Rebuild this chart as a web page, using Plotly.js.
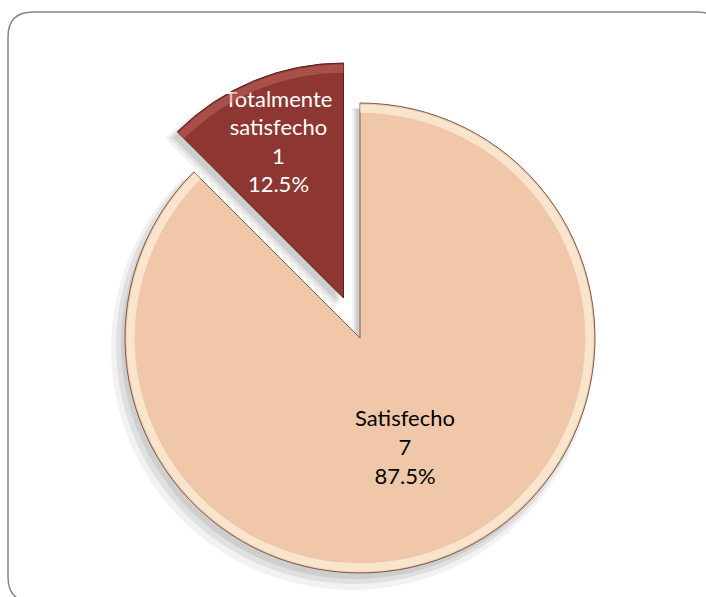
<!DOCTYPE html>
<html>
<head>
<meta charset="utf-8">
<script src="https://cdn.plot.ly/plotly-3.0.1.min.js"></script>
<style>html,body{margin:0;padding:0;background:#fff;}#chart{width:706px;height:597px;}</style>
</head>
<body>
<div id="chart"></div>
<script>
// ---- data ----
const categories = ['Satisfecho', 'Totalmente satisfecho'];
const displayLabels = ['Satisfecho', 'Totalmente<br>satisfecho'];
const counts = [7, 1];
const sliceColors = ['#F0C8A9', '#8E3632'];
const textColors = ['#000000', '#ffffff'];

// ---- layout helpers (pixels -> paper) ----
const W = 706, H = 597;
function dom(cx, cy, r) {
  return { x: [(cx - r) / W, (cx + r) / W], y: [1 - (cy + r) / H, 1 - (cy - r) / H] };
}
const R = 235;
const mainC = [360, 338];
// pulled slice offset along its bisector
const pulledC = [343.5, 298];

const clear = 'rgba(0,0,0,0)';
function tmpl(keep) {
  return categories.map((c, i) => i === keep ? '%{text}<br>%{value}<br>%{percent}' : '');
}
function colorsOnly(keep, col) {
  return categories.map((c, i) => i === keep ? (col || sliceColors[i]) : clear);
}
const base = {
  type: 'pie', labels: categories, values: counts, sort: false,
  direction: 'clockwise', rotation: 0, showlegend: false, hoverinfo: 'skip',
  textinfo: 'none'
};
const FONT = 'Lato, "Open Sans", sans-serif';

const traces = [];
// soft shadows
[[-8, 11, 6, 'rgba(0,0,0,0.05)'], [-6, 8, 3, 'rgba(0,0,0,0.07)'], [-4, 6, 0, 'rgba(0,0,0,0.08)']].forEach(s => {
  traces.push(Object.assign({}, base, {
    domain: dom(mainC[0] + s[0], mainC[1] + s[1], R + s[2]),
    marker: { colors: colorsOnly(0, s[3]), line: { width: 0 } }
  }));
  traces.push(Object.assign({}, base, {
    domain: dom(pulledC[0] + s[0], pulledC[1] + s[1], R + s[2]),
    marker: { colors: colorsOnly(1, s[3]), line: { width: 0 } }
  }));
});
// main slice
traces.push(Object.assign({}, base, {
  domain: dom(mainC[0], mainC[1], R),
  marker: { colors: colorsOnly(0), line: { color: ['#7a5a48', clear], width: 1 } },
  text: displayLabels, texttemplate: tmpl(0), textposition: 'inside',
  insidetextorientation: 'horizontal',
  insidetextfont: { family: FONT, size: 22, color: textColors }
}));
// bevel rim on main slice
traces.push(Object.assign({}, base, {
  domain: dom(mainC[0], mainC[1], R - 1.5), hole: 0.965,
  marker: { colors: colorsOnly(0, 'rgba(255,246,232,0.6)'), line: { width: 0 } }
}));
// pulled slice
traces.push(Object.assign({}, base, {
  domain: dom(pulledC[0], pulledC[1], R),
  marker: { colors: colorsOnly(1), line: { color: [clear, '#5a1e1c'], width: 1 } },
  text: displayLabels, texttemplate: tmpl(1), textposition: 'inside',
  insidetextorientation: 'horizontal',
  insidetextfont: { family: FONT, size: 22, color: textColors }
}));
traces.push(Object.assign({}, base, {
  domain: dom(pulledC[0], pulledC[1], R - 1.5), hole: 0.965,
  marker: { colors: colorsOnly(1, 'rgba(200,110,105,0.45)'), line: { width: 0 } }
}));

// rounded frame
const L = 8, T = 12, Rt = 722, B = 602, rad = 25;
const px = v => v / W, py = v => 1 - v / H;
const framePath = [
  `M ${px(L + rad)} ${py(T)}`,
  `L ${px(Rt - rad)} ${py(T)}`,
  `Q ${px(Rt)} ${py(T)} ${px(Rt)} ${py(T + rad)}`,
  `L ${px(Rt)} ${py(B - rad)}`,
  `Q ${px(Rt)} ${py(B)} ${px(Rt - rad)} ${py(B)}`,
  `L ${px(L + rad)} ${py(B)}`,
  `Q ${px(L)} ${py(B)} ${px(L)} ${py(B - rad)}`,
  `L ${px(L)} ${py(T + rad)}`,
  `Q ${px(L)} ${py(T)} ${px(L + rad)} ${py(T)} Z`
].join(' ');

const layout = {
  width: W, height: H,
  margin: { l: 0, r: 0, t: 0, b: 0 },
  paper_bgcolor: '#ffffff',
  uniformtext: { minsize: 22, mode: 'show' },
  shapes: [{ type: 'path', xref: 'paper', yref: 'paper', path: framePath,
    line: { color: '#868686', width: 1.5 }, fillcolor: clear, layer: 'below' }]
};

Plotly.newPlot('chart', traces, layout, { displayModeBar: false, staticPlot: true });
</script>
</body>
</html>
